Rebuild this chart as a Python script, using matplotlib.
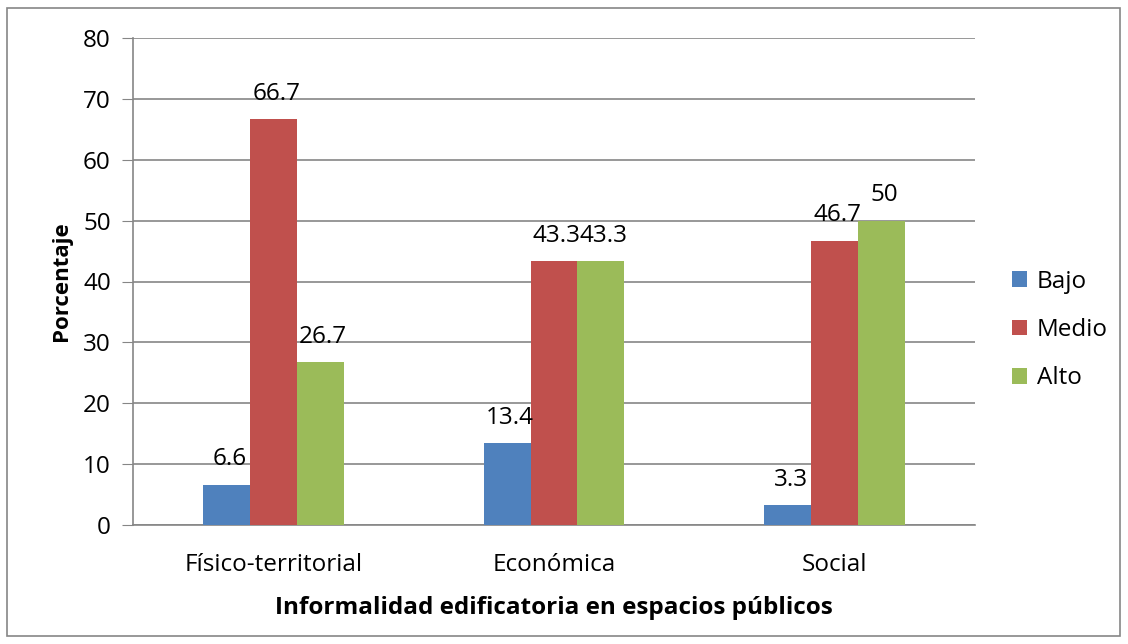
import matplotlib
matplotlib.use("Agg")
import matplotlib.pyplot as plt
import matplotlib.patches as patches
import numpy as np

categories = ["Físico-territorial", "Económica", "Social"]
series_names = ["Bajo", "Medio", "Alto"]
bajo = [6.6, 13.4, 3.3]
medio = [66.7, 43.3, 46.7]
alto = [26.7, 43.3, 50]
labels_bajo = ["6.6", "13.4", "3.3"]
labels_medio = ["66.7", "43.3", "46.7"]
labels_alto = ["26.7", "43.3", "50"]

COLORS = ["#4F81BD", "#C0504D", "#9BBB59"]
GRID = "#868686"
FS = 17.5

plt.rcParams["font.family"] = ["Open Sans", "DejaVu Sans"]

fig = plt.figure(figsize=(11.28, 6.44), dpi=100)
ax = fig.add_axes([133 / 1128, 1 - 525 / 644, (975 - 133) / 1128, (525 - 38) / 644])

x = np.arange(len(categories))
w = 0.167
series = [bajo, medio, alto]
texts = [labels_bajo, labels_medio, labels_alto]
handles = []
for i, (vals, lbls) in enumerate(zip(series, texts)):
    pos = x + (i - 1) * w
    bars = ax.bar(pos, vals, width=w, color=COLORS[i], zorder=3, label=series_names[i])
    handles.append(bars)
    for p, v, t in zip(pos, vals, lbls):
        ax.text(p + 0.01, v + 2.2, t, ha="center", va="bottom", fontsize=FS, zorder=4)

ax.set_xlim(-0.5, 2.5)
ax.set_ylim(0, 80)
ax.set_yticks(range(0, 81, 10))
ax.set_xticks(x)
ax.set_xticklabels(categories, fontsize=FS)
ax.tick_params(axis="y", labelsize=FS, length=8, color=GRID, pad=8)
ax.tick_params(axis="x", length=0, pad=20)
ax.grid(axis="y", color=GRID, linewidth=1.2, zorder=0)
for s in ["top", "right"]:
    ax.spines[s].set_visible(False)
ax.spines["left"].set_color(GRID)
ax.spines["bottom"].set_color(GRID)
ax.spines["left"].set_linewidth(1.2)
ax.spines["bottom"].set_linewidth(1.2)

ax.set_ylabel("Porcentaje", fontsize=16, fontweight="bold", labelpad=8)
ax.set_xlabel("Informalidad edificatoria en espacios públicos", fontsize=17.5,
              fontweight="bold", labelpad=14)

fig.legend(handles=handles, labels=series_names, loc="center left",
           bbox_to_anchor=(990 / 1128, 1 - 330 / 644), frameon=False,
           fontsize=FS, handlelength=0.62, handleheight=0.62, handletextpad=0.4,
           labelspacing=1.0)

# outer chart border
fig.patches.append(patches.Rectangle((7 / 1128, 8 / 644), (1120 - 7) / 1128, (636 - 8) / 644,
                                     transform=fig.transFigure, fill=False,
                                     edgecolor=GRID, linewidth=1.2))

fig.savefig("out.png", dpi=100, facecolor="white")
